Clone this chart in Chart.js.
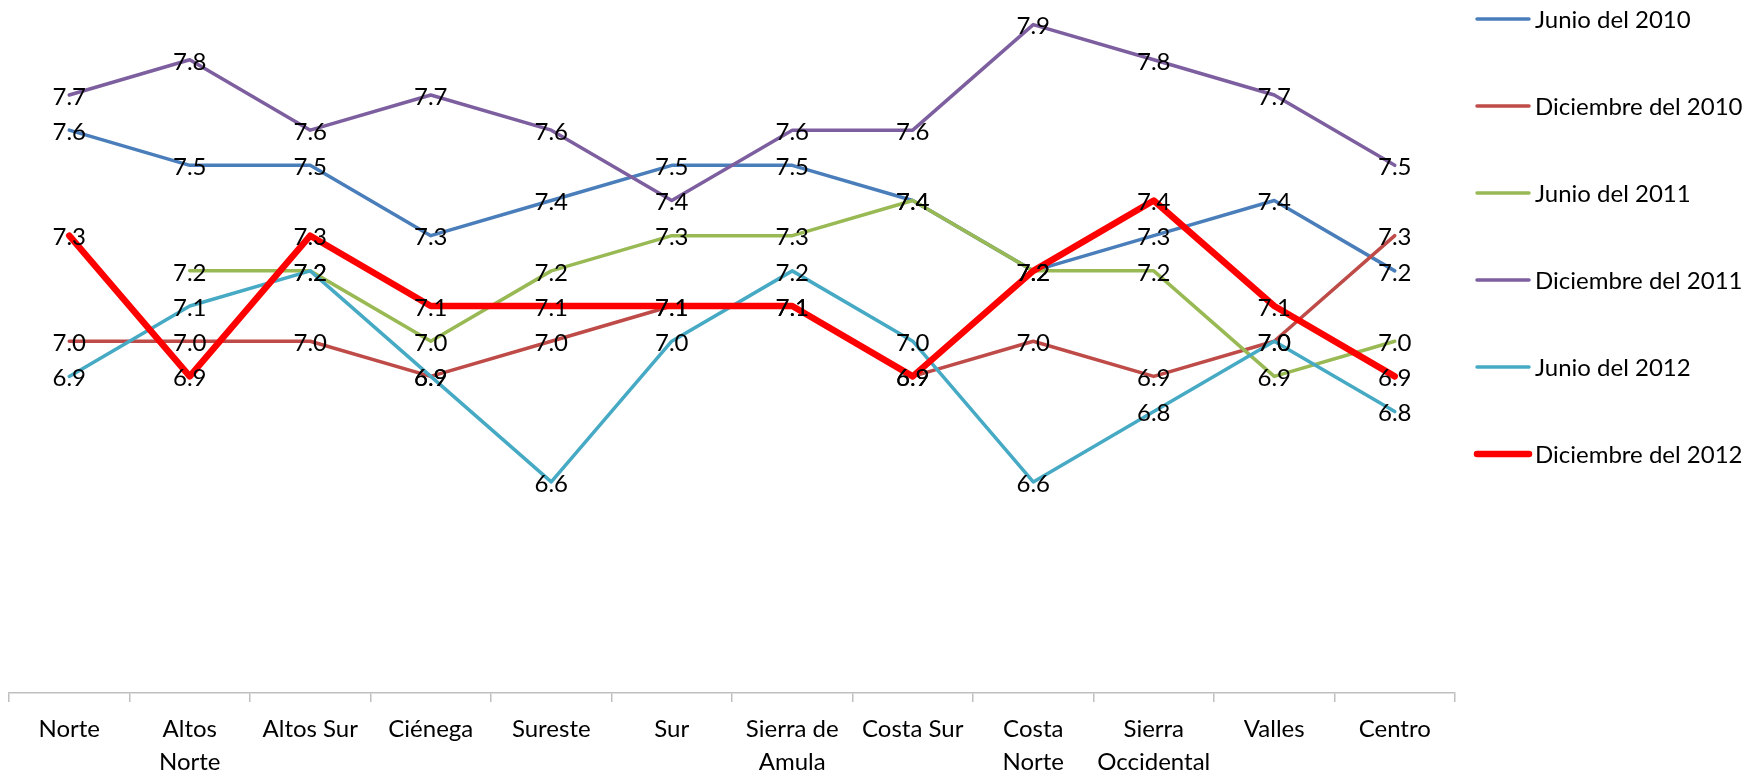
<!DOCTYPE html>
<html>
<head>
<meta charset="utf-8">
<script src="https://cdn.jsdelivr.net/npm/chart.js@4/dist/chart.umd.min.js"></script>
<style>
  body { margin: 0; background: #fff; }
  #wrap { width: 1758px; height: 771px; }
</style>
</head>
<body>
<div id="wrap"><canvas id="chart" width="1758" height="771"></canvas></div>
<script>
// regiones
const regiones = ['Norte', ['Altos', 'Norte'], 'Altos Sur', 'Ciénega', 'Sureste', 'Sur',
    ['Sierra de', 'Amula'], 'Costa Sur', ['Costa', 'Norte'], ['Sierra', 'Occidental'], 'Valles', 'Centro'];

// calificaciones por periodo
const junio2010      = [7.6, 7.5, 7.5, 7.3, 7.4, 7.5, 7.5, 7.4, 7.2, 7.3, 7.4, 7.2];
const diciembre2010  = [7.0, 7.0, 7.0, 6.9, 7.0, 7.1, 7.1, 6.9, 7.0, 6.9, 7.0, 7.3];
const junio2011      = [null, 7.2, 7.2, 7.0, 7.2, 7.3, 7.3, 7.4, 7.2, 7.2, 6.9, 7.0];
const diciembre2011  = [7.7, 7.8, 7.6, 7.7, 7.6, 7.4, 7.6, 7.6, 7.9, 7.8, 7.7, 7.5];
const junio2012      = [6.9, 7.1, 7.2, 6.9, 6.6, 7.0, 7.2, 7.0, 6.6, 6.8, 7.0, 6.8];
const diciembre2012  = [7.3, 6.9, 7.3, 7.1, 7.1, 7.1, 7.1, 6.9, 7.2, 7.4, 7.1, 6.9];

const series = ['Junio del 2010', 'Diciembre del 2010', 'Junio del 2011',
    'Diciembre del 2011', 'Junio del 2012', 'Diciembre del 2012'];
const valores = [junio2010, diciembre2010, junio2011, diciembre2011, junio2012, diciembre2012];
const colores = ['#4A7EBB', '#BE4B48', '#98B954', '#7D5FA0', '#46AAC5', '#FF0000'];
const grosores = [3.5, 3.5, 3.5, 3.5, 3.5, 6.5];

const FONT = 'Lato, "Open Sans", sans-serif';
const FSIZE = 24;

// etiquetas de valor sobre cada punto
const etiquetas = {
    id: 'etiquetas',
    afterDatasetsDraw(chart) {
        const ctx = chart.ctx;
        ctx.save();
        ctx.font = FSIZE + 'px ' + FONT;
        ctx.fillStyle = '#000';
        ctx.textAlign = 'center';
        ctx.textBaseline = 'middle';
        chart.data.datasets.forEach((ds, i) => {
            const meta = chart.getDatasetMeta(i);
            meta.data.forEach((pt, j) => {
                const v = ds.data[j];
                if (v === null || v === undefined) return;
                ctx.fillText(v.toFixed(1), pt.x, pt.y + 2);
            });
        });
        ctx.restore();
    }
};

// leyenda lateral
const leyenda = {
    id: 'leyenda',
    afterDraw(chart) {
        const ctx = chart.ctx;
        ctx.save();
        ctx.font = FSIZE + 'px ' + FONT;
        ctx.textBaseline = 'middle';
        ctx.textAlign = 'left';
        chart.data.datasets.forEach((ds, i) => {
            const y = 19 + i * 87;
            ctx.strokeStyle = ds.borderColor;
            ctx.lineWidth = ds.borderWidth;
            ctx.lineCap = 'round';
            ctx.beginPath();
            ctx.moveTo(1477, y);
            ctx.lineTo(1529, y);
            ctx.stroke();
            ctx.fillStyle = '#000';
            ctx.fillText(ds.label, 1535, y + 1);
        });
        ctx.restore();
    }
};

new Chart(document.getElementById('chart').getContext('2d'), {
    type: 'line',
    data: {
        labels: regiones,
        datasets: series.map((s, i) => ({
            label: s,
            data: valores[i],
            borderColor: colores[i],
            backgroundColor: colores[i],
            borderWidth: grosores[i],
            borderJoinStyle: 'round',
            borderCapStyle: 'round',
            pointRadius: 0,
            tension: 0,
            fill: false,
            order: series.length - i
        }))
    },
    options: {
        responsive: false,
        animation: false,
        layout: { padding: { left: 9, right: 303, top: 0, bottom: 0 } },
        plugins: {
            legend: { display: false },
            tooltip: { enabled: false }
        },
        scales: {
            y: {
                display: false,
                min: 6,
                max: 7.97
            },
            x: {
                offset: true,
                afterFit(scale) { scale.height = 78; },
                grid: {
                    offset: true,
                    drawOnChartArea: false,
                    drawTicks: true,
                    tickLength: 9,
                    color: '#BFBFBF',
                    lineWidth: 1.5
                },
                border: { color: '#BFBFBF', width: 1.5 },
                ticks: {
                    color: '#000',
                    font: { family: FONT, size: FSIZE, lineHeight: 1.38 },
                    padding: 11,
                    maxRotation: 0,
                    minRotation: 0,
                    autoSkip: false
                }
            }
        }
    },
    plugins: [etiquetas, leyenda]
});
</script>
</body>
</html>
